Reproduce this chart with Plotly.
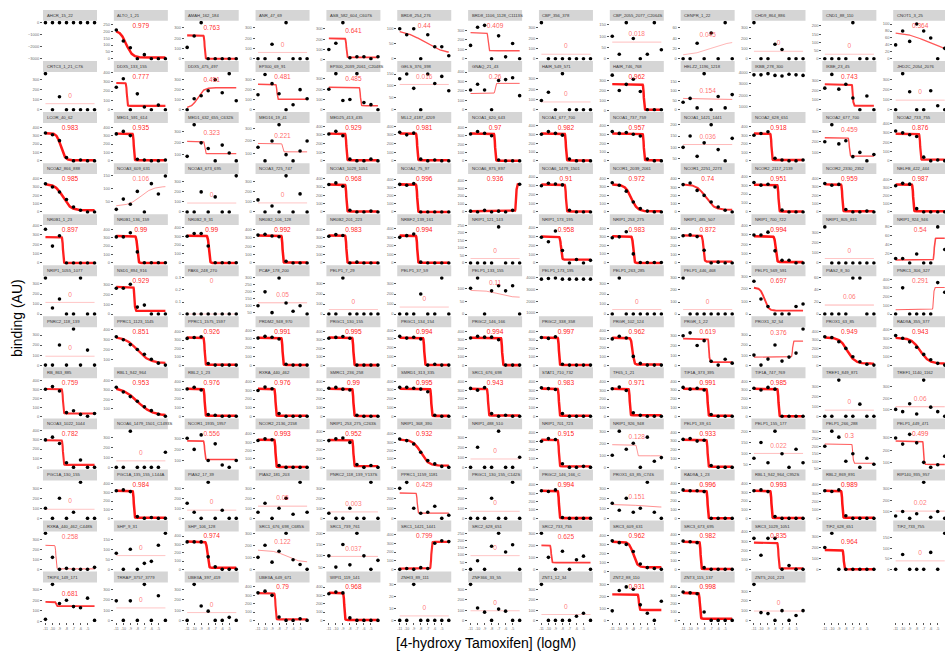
import numpy as np
import plotly.graph_objects as go

# ---------------------------------------------------------------- data
LOG_CONC = [-11, -10, -9, -8, -7, -6, -5, -4]
X_TICK_VALS = [-11, -10, -9, -8, -7, -6, -5]
X_TICK_TEXT = ["-11", "-10", "-9", "-8", "-7", "-6", "-5"]

PEPTIDES = [
    "AHCR_15_22", "ALTO_1_21", "AMAH_162_184", "ANR_47_69", "ASB_582_604_C607S", "BRD8_254_276",
    "BRD8_1106_1128_C1113S", "CBP_356_378", "CBP_2055_2077_C2064S", "CENPR_1_22", "CHD9_864_886",
    "CND1_88_110", "CNOT1_3_25",
    "CRTC3_1_21_C7S", "DDX5_133_155", "DDX5_475_497", "EP300_69_91", "EP300_2039_2061_C2048S",
    "GELS_376_398", "GNAQ_21_43", "HAIR_549_571", "HAIR_746_768", "HELZ2_1196_1218", "IKBB_278_300",
    "IKBE_23_45", "JHD2C_2054_2076",
    "LCOR_40_62", "MED1_591_614", "MED1_632_655_C632S", "MED16_19_41", "MED25_413_435",
    "MLL2_4187_4209", "NCOA1_620_643", "NCOA1_677_700", "NCOA1_737_759", "NCOA1_1421_1441",
    "NCOA2_628_651", "NCOA2_677_700", "NCOA2_733_755",
    "NCOA2_866_888", "NCOA3_609_631", "NCOA3_673_695", "NCOA3_725_747", "NCOA3_1029_1051",
    "NCOA4_75_97", "NCOA6_875_897", "NCOA6_1479_1501", "NCOR1_2039_2061", "NCOR1_2251_2273",
    "NCOR2_2117_2139", "NCOR2_2330_2352", "NELFB_422_444",
    "NR0B1_1_23", "NR0B1_136_159", "NR0B2_9_31", "NR0B2_106_128", "NR0B2_201_223", "NRBF2_139_161",
    "NRIP1_121_143", "NRIP1_173_195", "NRIP1_253_275", "NRIP1_485_507", "NRIP1_700_722",
    "NRIP1_805_831", "NRIP1_924_946",
    "NRIP1_1055_1077", "NSD1_894_916", "PAK6_248_270", "PCAF_178_200", "PELP1_7_29", "PELP1_37_59",
    "PELP1_133_155", "PELP1_173_195", "PELP1_263_285", "PELP1_446_468", "PELP1_569_591",
    "PIAS2_8_30", "PNRC1_306_327",
    "PNRC2_118_139", "PPRC1_1123_1145", "PPRC1_1575_1597", "PRDM2_948_970", "PRGC1_130_155",
    "PRGC1_134_154", "PRGC2_146_166", "PRGC2_338_358", "PRGR_102_124", "PRGR_1_22", "PROX1_32_54",
    "PROX1_63_85", "RAD9A_355_377",
    "RB_863_885", "RBL1_942_964", "RBL2_1_23", "RXRA_440_462", "SMRC1_236_258", "SMRD1_313_335",
    "SRC1_676_698", "STAT1_710_732", "TF65_1_21", "TIF1A_373_395", "TIF1A_747_769",
    "TREF1_849_871", "TREF1_1140_1162",
    "NCOA3_1022_1044", "NCOA6_1479_1501_C1493S", "NCOR1_1935_1957", "NCOR2_2136_2158",
    "NRIP1_253_275_C263S", "NRIP1_368_390", "NRIP1_488_510", "NRIP1_701_723", "NRIP1_926_948",
    "PELP1_39_61", "PELP1_155_177", "PELP1_266_288", "PELP1_449_471",
    "PGC1A_130_155", "PGC1A_135_155_L144A", "PIAS2_17_39", "PIAS2_181_203", "PNRC2_118_139_Y137S",
    "PPRC1_1159_1181", "PRGC1_130_155_C142S", "PRGC2_146_166_C", "PROX1_63_85_C74S", "RAD9A_1_23",
    "RBL1_942_964_C952S", "RBL2_869_891", "RIP140_935_957",
    "RXRA_440_462_C448S", "SHP_9_31", "SHP_106_128", "SRC1_676_698_C685S", "SRC1_739_761",
    "SRC1_1421_1441", "SRC2_628_651", "SRC2_733_755", "SRC3_609_631", "SRC3_673_695",
    "SRC3_1029_1051", "TIF2_628_651", "TIF2_733_755",
    "TRIP4_149_171", "TRRAP_3757_3779", "UBE3A_397_419", "UBE3A_649_671", "WIPI1_119_141",
    "ZNHI3_89_111", "ZNF366_33_55", "ZNT1_12_34", "ZNT2_88_110", "ZNT3_115_137", "ZNT5_201_223",
]

# goodness of fit per peptide (None = no fit)
R2 = [
    None, 0.979, 0.763, 0, 0.641, 0.44, 0.409, 0, 0.018, 0.045, 0, 0, 0.364,
    0, 0.777, 0.491, 0.481, 0.485, 0.016, 0.26, 0, 0.962, 0.154, None, 0.743, 0,
    0.983, 0.935, 0.323, 0.221, 0.929, 0.981, 0.97, 0.982, 0.957, 0.036, 0.918, 0.459, 0.876,
    0.985, 0.106, 0, 0, 0.968, 0.996, 0.936, 0.91, 0.972, 0.74, 0.951, 0.959, 0.987,
    0.897, 0.99, 0.99, 0.992, 0.983, 0.994, 0, 0.958, 0.983, 0.872, 0.994, 0, 0.54,
    0, 0.929, 0, 0.05, 0, 0, 0.11, None, 0, 0, 0.697, 0.06, 0.291,
    0, 0.851, 0.926, 0.991, 0.995, 0.994, 0.994, 0.997, 0.962, 0.619, 0.376, 0.949, 0.943,
    0.759, 0.953, 0.976, 0.976, 0.99, 0.995, 0.943, 0.983, 0.971, 0.991, 0.985, 0, 0.06,
    0.782, 0, 0.556, 0.993, 0.952, 0.932, 0, 0.915, 0.128, 0.933, 0.022, 0.3, 0.499,
    0, 0.984, 0, 0.05, 0.003, 0.429, 0, 0.994, 0.151, 0.996, 0.993, 0.989, 0.02,
    0.258, 0, 0.974, 0.122, 0.037, 0.799, 0, 0.625, 0.962, 0.982, 0.835, 0.964, 0,
    0.681, 0, 0, 0.79, 0.968, 0, 0, 0, 0.931, 0.998, 0,
]

# fitted log EC50 and Hill slope of the logistic curve
EC50 = [
    -8, -9.6, -8.5, -8, -8.5, -7.5, -8.5, -8, -8, -7, -8, -8, -6.5,
    -8, -9.5, -9.5, -8.3, -6.5, -8, -7.5, -8, -6.5, -7, -8, -7, -8,
    -8.8, -8.5, -8.5, -7.5, -8.5, -8.5, -7.5, -7.5, -6.5, -7.5, -8.5, -7.5, -7.5,
    -8.5, -7.5, -8, -8, -8.5, -8.5, -4.5, -7.5, -8.3, -7.8, -7.5, -8.5, -8.5,
    -8.5, -8, -7.9, -7.5, -8.5, -8.5, -8, -8.2, -8, -8.1, -7.9, -8, -5.5,
    -8, -8.4, -8, -8, -8, -8, -7, -8, -8, -8, -9.5, -8, -5.6,
    -8, -8, -8.5, -7.5, -7.5, -7.5, -6.5, -8.5, -8.1, -7.3, -5.5, -7.8, -7.5,
    -8.5, -8, -8.5, -8.5, -7.5, -6.5, -8.5, -8.5, -8.5, -7.5, -7.5, -8, -8,
    -8.5, -8, -8.5, -8.5, -7.5, -8, -8, -8.5, -7.5, -7.5, -8, -7, -7,
    -8, -8.5, -8, -8, -8, -8.5, -8, -8.5, -7, -7.5, -8.5, -8.5, -8,
    -9.5, -8, -8.1, -7, -8, -6.5, -8, -9.6, -8, -8.5, -7.5, -8.3, -8,
    -9.5, -8, -8, -8.5, -8.8, -8, -8, -8, -7.2, -8.6, -8,
]
HILL = [
    0, 1.0, 10, 0, 10, 0.3, 10, 0, 0, 0.3, 0, 0, 0.3,
    0, 10, 1, 10, 10, 0, 10, 0, 10, 0.3, 0, 10, 0,
    1.5, 10, 10, 10, 10, 10, 10, 10, 10, 0, 10, 10, 10,
    0.8, 0.5, 0, 0, 10, 10, 10, 10, 1, 0.7, 10, 10, 10,
    10, 6, 6, 10, 10, 10, 0, 6, 6, 6, 5, 0, 10,
    0, 10, 0, 0, 0, 0, 0.5, 0, 0, 0, 1.5, 0, 10,
    0, 0.5, 10, 10, 10, 10, 10, 10, 4, 10, 10, 0.8, 0.7,
    10, 0.4, 10, 10, 10, 10, 10, 10, 10, 10, 10, 0, 0,
    10, 0, 10, 10, 10, 0.8, 0, 10, 10, 10, 0, 10, 10,
    0, 10, 0, 0, 0, 10, 0, 10, 0.5, 10, 10, 10, 0,
    10, 0, 5, 0.5, 0, 10, 0, 10, 1.5, 10, 10, 10, 0,
    10, 0, 0, 10, 10, 0, 0, 0, 10, 8, 0,
]

# binding signal (AU) at the eight concentrations, one block per row of panels
BINDING_ROW_01 = [
    [0, 0, 0, 0, 0, 0, 0, 0], [210, 130, 80, 0, 30, 0, 0, 0], [110, 220, 350, 0, 0, 0, 0, 0],
    [0, 0, 140, 0, 350, 0, 0, 0], [100, 160, 360, 20, 30, 30, 10, 30], [100, 80, 100, 0, 80, 40, 40, 10],
    [140, 330, 350, 0, 240, 20, 160, 0], [350, 0, 0, 0, 0, 0, 0, 0], [100, 20, 160, 90, 0, 20, 160, 40],
    [0, 0, 30, 0, 50, 0, 70, 0], [350, 0, 0, 140, 90, 0, 0, 0], [0, 0, 0, 0, 220, 0, 0, 0],
    [40, 80, 50, 100, 80, 60, 0, 30],
]
BINDING_ROW_02 = [
    [360, 0, 130, 0, 0, 0, 0, 0], [240, 330, 0, 170, 30, 0, 50, 0], [0, 110, 140, 190, 300, 170, 360, 90],
    [150, 350, 260, 160, 0, 50, 200, 110], [200, 350, 90, 100, 350, 70, 50, 0],
    [130, 150, 90, 0, 150, 110, 140, 80], [210, 270, 210, 0, 310, 320, 340, 150],
    [90, 170, 0, 350, 0, 0, 0, 0], [350, 200, 260, 310, 190, 10, 10, 10], [40, 60, 10, 190, 0, 70, 10, 80],
    [3800, 3800, 3900, 3750, 3700, 3850, 3800, 3750], [220, 360, 210, 260, 120, 0, 140, 0],
    [0, 360, 180, 0, 0, 190, 40, 0],
]
BINDING_ROW_03 = [
    [330, 310, 240, 40, 0, 10, 0, 0], [320, 350, 300, 20, 10, 0, 0, 10], [80, 360, 200, 150, 40, 180, 110, 40],
    [150, 40, 200, 330, 90, 40, 120, 200], [310, 340, 290, 20, 0, 0, 20, 0], [330, 300, 320, 20, 0, 10, 0, 0],
    [320, 350, 330, 300, 10, 0, 0, 0], [300, 330, 310, 290, 20, 0, 0, 0], [330, 310, 320, 300, 280, 20, 0, 0],
    [100, 150, 60, 120, 200, 90, 40, 140], [300, 320, 340, 30, 10, 0, 0, 10],
    [200, 360, 180, 210, 60, 100, 20, 80], [320, 300, 280, 260, 40, 0, 10, 0],
]
BINDING_ROW_04 = [
    [340, 300, 240, 150, 60, 20, 0, 0], [20, 60, 40, 90, 10, 120, 80, 150], [0, 0, 200, 0, 150, 0, 0, 360],
    [120, 0, 60, 0, 360, 0, 180, 0], [330, 350, 310, 20, 0, 0, 10, 0], [340, 330, 350, 0, 0, 0, 0, 0],
    [10, 0, 20, 0, 10, 0, 20, 350], [300, 330, 320, 310, 20, 0, 0, 0], [350, 320, 250, 120, 40, 10, 0, 0],
    [330, 350, 260, 200, 120, 60, 20, 0], [330, 300, 310, 280, 20, 0, 0, 0], [340, 320, 330, 30, 0, 0, 10, 0],
    [320, 350, 340, 40, 0, 0, 0, 0],
]
BINDING_ROW_05 = [
    [360, 180, 290, 0, 0, 0, 0, 0], [310, 310, 360, 130, 0, 0, 0, 0], [300, 330, 330, 190, 0, 0, 0, 0],
    [330, 340, 320, 310, 20, 0, 0, 0], [320, 340, 330, 0, 10, 0, 0, 0], [300, 320, 340, 10, 0, 0, 0, 0],
    [0, 0, 0, 0, 240, 0, 0, 0], [290, 240, 360, 140, 0, 40, 0, 30], [290, 300, 360, 100, 0, 0, 0, 0],
    [320, 330, 310, 150, 0, 10, 0, 0], [300, 300, 330, 130, 30, 30, 0, 0], [360, 0, 0, 0, 0, 0, 0, 0],
    [10, 10, 0, 20, 0, 0, 80, 30],
]
BINDING_ROW_06 = [
    [360, 60, 150, 0, 0, 360, 0, 0], [260, 260, 300, 70, 90, 0, 0, 0], [0, 0, 0, 0, 0, 0, 0, 0],
    [100, 200, 50, 300, 120, 60, 100, 40], [0, 0, 360, 0, 0, 0, 0, 0], [0, 0, 0, 200, 0, 0, 360, 0],
    [100, 140, 0, 90, 110, 90, 110, 0], [3900, 3950, 4000, 3900, 3900, 3900, 3900, 3900],
    [0, 360, 0, 0, 0, 0, 0, 0], [300, 0, 0, 0, 0, 0, 0, 0], [260, 120, 60, 0, 0, 0, 60, 80],
    [0, 0, 0, 0, 60, 60, 0, 0], [0, 300, 0, 0, 0, 0, 360, 250],
]
BINDING_ROW_07 = [
    [0, 0, 200, 0, 360, 0, 150, 0], [330, 300, 250, 200, 150, 100, 60, 40], [320, 330, 340, 20, 0, 0, 0, 0],
    [310, 330, 320, 300, 10, 0, 0, 0], [320, 330, 340, 320, 0, 0, 0, 0], [330, 310, 320, 300, 0, 10, 0, 0],
    [320, 340, 330, 330, 300, 0, 0, 0], [330, 320, 340, 10, 0, 0, 0, 0], [300, 330, 310, 100, 20, 0, 0, 0],
    [300, 330, 200, 250, 40, 0, 60, 20], [100, 0, 60, 200, 40, 80, 120, 360],
    [340, 330, 280, 200, 100, 40, 10, 0], [330, 300, 260, 200, 120, 60, 20, 0],
]
BINDING_ROW_08 = [
    [300, 330, 280, 40, 60, 20, 0, 30], [330, 280, 230, 180, 120, 80, 40, 20], [310, 330, 300, 20, 10, 0, 0, 0],
    [300, 340, 320, 30, 0, 0, 0, 0], [320, 330, 310, 300, 10, 0, 0, 0], [330, 330, 320, 310, 280, 10, 0, 0],
    [320, 300, 330, 30, 0, 10, 0, 0], [330, 320, 310, 30, 0, 0, 0, 0], [320, 340, 300, 40, 10, 0, 0, 0],
    [330, 310, 320, 300, 20, 0, 0, 0], [320, 300, 330, 310, 0, 0, 0, 0], [0, 0, 360, 0, 0, 120, 0, 0],
    [100, 80, 150, 60, 360, 120, 80, 40],
]
BINDING_ROW_09 = [
    [300, 330, 260, 50, 0, 80, 0, 0], [0, 0, 360, 0, 0, 0, 0, 150], [300, 200, 330, 100, 250, 60, 40, 100],
    [320, 340, 330, 20, 0, 0, 0, 0], [300, 320, 330, 280, 30, 0, 20, 0], [340, 320, 280, 180, 80, 40, 10, 0],
    [0, 200, 0, 0, 360, 0, 0, 100], [300, 330, 320, 40, 0, 0, 10, 0], [100, 300, 150, 200, 0, 250, 50, 80],
    [320, 330, 300, 310, 20, 0, 0, 0], [80, 150, 60, 200, 100, 40, 120, 60],
    [200, 300, 260, 100, 150, 60, 120, 80], [300, 250, 330, 260, 100, 60, 80, 150],
]
BINDING_ROW_10 = [
    [100, 0, 200, 0, 60, 360, 0, 0], [320, 330, 310, 20, 0, 10, 0, 0], [150, 60, 0, 360, 0, 80, 0, 0],
    [60, 150, 0, 100, 200, 40, 360, 60], [50, 0, 0, 100, 0, 0, 360, 0], [300, 360, 100, 50, 60, 120, 0, 30],
    [0, 0, 0, 200, 0, 0, 360, 0], [330, 320, 340, 10, 0, 0, 0, 0], [150, 80, 200, 60, 100, 360, 60, 0],
    [330, 320, 320, 310, 0, 0, 0, 0], [320, 330, 310, 20, 0, 0, 0, 0], [330, 320, 340, 30, 0, 0, 0, 0],
    [60, 100, 40, 80, 360, 50, 100, 40],
]
BINDING_ROW_11 = [
    [360, 120, 0, 10, 0, 0, 0, 20], [80, 0, 100, 0, 30, 40, 120, 180], [330, 330, 330, 150, 30, 0, 0, 0],
    [100, 200, 60, 150, 300, 80, 40, 0], [100, 50, 150, 60, 200, 100, 40, 80], [0, 10, 0, 20, 10, 300, 330, 320],
    [0, 60, 0, 160, 250, 120, 170, 0], [300, 100, 0, 150, 0, 80, 110, 0], [340, 320, 300, 220, 80, 40, 30, 20],
    [330, 320, 310, 20, 0, 0, 0, 0], [330, 150, 330, 330, 0, 40, 0, 0], [200, 330, 0, 0, 0, 0, 0, 0],
    [0, 70, 0, 0, 0, 80, 0, 170],
]
BINDING_ROW_12 = [
    [20, 350, 170, 200, 140, 130, 220, 10], [190, 0, 190, 0, 350, 0, 240, 0], [0, 350, 140, 90, 0, 0, 30, 0],
    [330, 350, 300, 40, 0, 0, 20, 0], [320, 340, 330, 30, 0, 0, 0, 0], [0, 0, 30, 0, 0, 0, 0, 0],
    [350, 120, 80, 0, 110, 90, 0, 0], [350, 0, 0, 0, 0, 40, 70, 0], [80, 250, 280, 260, 130, 60, 0, 160],
    [340, 330, 320, 100, 0, 0, 0, 0], [370, 80, 70, 0, 100, 0, 50, 100],
]

BINDING = (BINDING_ROW_01 + BINDING_ROW_02 + BINDING_ROW_03 + BINDING_ROW_04 + BINDING_ROW_05
           + BINDING_ROW_06 + BINDING_ROW_07 + BINDING_ROW_08 + BINDING_ROW_09 + BINDING_ROW_10
           + BINDING_ROW_11 + BINDING_ROW_12)

# ---------------------------------------------------------------- layout geometry (px)
W, H = 945, 661
N_COLS, N_ROWS = 13, 12
COL_LEFT, COL_PITCH, PANEL_W = 43.0, 70.85, 54.0
ROW_TOP, ROW_PITCH, STRIP_H, PANEL_H = 7.0, 51.45, 11.0, 40.0
X_LO, X_HI = -11.35, -3.65
NO_FIT_DEPTH = 3000.0

FONT = "Liberation Sans, Arial, sans-serif"
Y_TICK_FONT = dict(family=FONT, size=4.0, color="#6E6E6E")
X_TICK_FONT = dict(family=FONT, size=3.6, color="#6E6E6E")


def fit_logistic(x, y, ec50, hill):
    """Least-squares top/bottom plateaus for a logistic with fixed EC50 and slope."""
    f = 1.0 / (1.0 + 10.0 ** (hill * (x - ec50)))
    design = np.column_stack([f, 1.0 - f])
    coef, *_ = np.linalg.lstsq(design, y, rcond=None)
    return coef


fig = go.Figure()
shapes, annotations = [], []
layout_axes = {}
x_pts = np.array(LOG_CONC, dtype=float)
x_curve = np.linspace(LOG_CONC[0], LOG_CONC[-1], 161)


def panel_box(r, c):
    x0 = COL_LEFT + c * COL_PITCH
    x1 = x0 + PANEL_W
    top = ROW_TOP + r * ROW_PITCH + STRIP_H
    return x0, x1, top, top + PANEL_H


def add_axes(k, r, c, y_range, show_x, show_y=True):
    x0, x1, top, bottom = panel_box(r, c)
    xr = [X_LO, X_HI]
    if x1 > W:  # the right-most column runs off the page
        xr = [X_LO, X_LO + (X_HI - X_LO) * (W - x0) / PANEL_W]
        x1 = W
    sx = "" if k == 1 else str(k)
    layout_axes["xaxis" + sx] = dict(
        domain=[x0 / W, x1 / W], anchor="y" + sx, range=xr, showgrid=False, zeroline=False,
        showline=False, fixedrange=True, ticks="outside" if show_x else "", ticklen=2,
        tickwidth=0.5, tickcolor="#555555", showticklabels=show_x, tickvals=X_TICK_VALS,
        ticktext=X_TICK_TEXT, tickfont=X_TICK_FONT, tickangle=0,
    )
    layout_axes["yaxis" + sx] = dict(
        domain=[1 - bottom / H, 1 - top / H], anchor="x" + sx, range=y_range, showgrid=False,
        zeroline=False, showline=False, fixedrange=True, visible=show_y, ticks="outside",
        ticklen=2, tickwidth=0.5, tickcolor="#555555", nticks=6, tickfont=Y_TICK_FONT,
    )
    return "x" + sx, "y" + sx


n = len(PEPTIDES)
last_row_of_col = {}
for i in range(n):
    r, c = divmod(i, N_COLS)
    last_row_of_col[c] = r

for i in range(n):
    r, c = divmod(i, N_COLS)
    y = np.array(BINDING[i], dtype=float)
    r2 = R2[i]
    span = y.max() - y.min()
    if span == 0:
        span = 1.0

    if r2 is None:
        lo, hi = y.min() - NO_FIT_DEPTH, y.max()
        curve = None
    else:
        top_p, bot_p = fit_logistic(x_pts, y, EC50[i], HILL[i])
        f = 1.0 / (1.0 + 10.0 ** (HILL[i] * (x_curve - EC50[i])))
        curve = top_p * f + bot_p * (1 - f)
        label_y = curve.max() + 0.3 * span
        lo = min(y.min(), curve.min())
        hi = max(y.max(), label_y)
    pad = 0.05 * (hi - lo)
    y_range = [lo - pad, hi + pad]

    xa, ya = add_axes(i + 1, r, c, y_range, show_x=(r == N_ROWS - 1))

    if curve is not None:
        alpha = 0.55 + 0.45 * r2
        fig.add_trace(go.Scatter(
            x=x_curve, y=curve, mode="lines", xaxis=xa, yaxis=ya, hoverinfo="skip",
            line=dict(color=f"rgba(255,20,20,{alpha:.2f})", width=0.45 + 2.1 * r2),
        ))
    fig.add_trace(go.Scatter(
        x=x_pts, y=y, mode="markers", xaxis=xa, yaxis=ya,
        marker=dict(color="black", size=3.6, line=dict(width=0)),
    ))
    if curve is not None:
        fig.add_trace(go.Scatter(
            x=[-7.5], y=[label_y], mode="text", text=[format(r2, ".3g")], xaxis=xa, yaxis=ya,
            textposition="bottom center", hoverinfo="skip",
            textfont=dict(family=FONT, size=6.6, color=f"rgba(255,20,20,{0.6 + 0.4 * r2:.2f})"),
        ))

    # facet strip
    x0, x1, ptop, _ = panel_box(r, c)
    shapes.append(dict(
        type="rect", xref="paper", yref="paper", x0=x0 / W, x1=x1 / W,
        y0=1 - ptop / H, y1=1 - (ptop - STRIP_H) / H, fillcolor="#D5D5D5",
        line=dict(width=0), layer="below",
    ))
    annotations.append(dict(
        x=(x0 + 1.5) / W, y=1 - (ptop - STRIP_H / 2) / H, xref="paper", yref="paper",
        text=PEPTIDES[i], showarrow=False, xanchor="left", yanchor="middle",
        font=dict(family=FONT, size=4.2, color="#333333"),
    ))

# columns without a panel in the last row still carry the concentration axis there
k = n
for c in range(N_COLS):
    if last_row_of_col[c] < N_ROWS - 1:
        k += 1
        xa, ya = add_axes(k, N_ROWS - 1, c, [0, 1], show_x=True, show_y=False)
        fig.add_trace(go.Scatter(x=[], y=[], xaxis=xa, yaxis=ya, mode="markers"))

annotations.append(dict(
    x=16.5 / W, y=1 - 318 / H, xref="paper", yref="paper", text="binding (AU)", showarrow=False,
    textangle=-90, xanchor="center", yanchor="middle", font=dict(family=FONT, size=14, color="black"),
))
annotations.append(dict(
    x=486 / W, y=1 - 645 / H, xref="paper", yref="paper", text="[4-hydroxy Tamoxifen] (logM)",
    showarrow=False, xanchor="center", yanchor="middle", font=dict(family=FONT, size=14, color="black"),
))

fig.update_layout(
    width=W, height=H, autosize=False, showlegend=False,
    margin=dict(l=0, r=0, t=0, b=0, pad=0),
    paper_bgcolor="white", plot_bgcolor="white",
    shapes=shapes, annotations=annotations, **layout_axes,
)

fig.write_html("out.html")
